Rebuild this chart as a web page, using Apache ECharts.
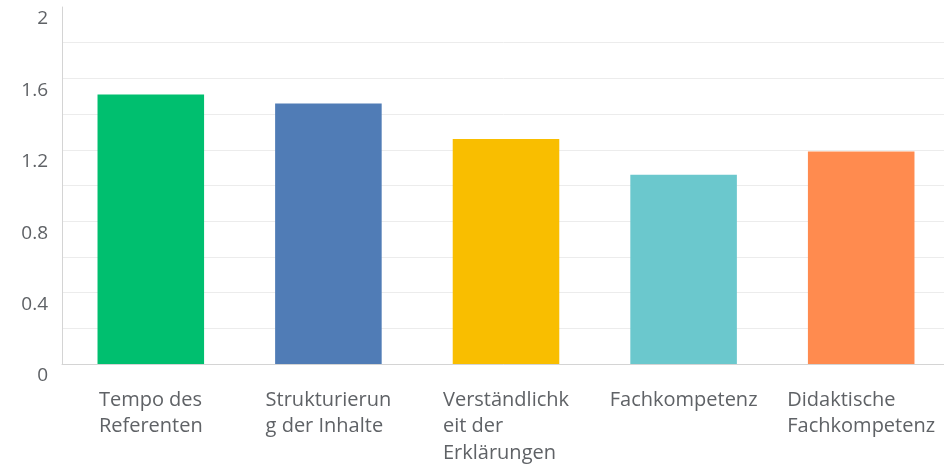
<!DOCTYPE html>
<html>
<head>
<meta charset="utf-8">
<script src="https://cdn.jsdelivr.net/npm/echarts@6/dist/echarts.min.js"></script>
<style>
  html, body { margin: 0; padding: 0; background: #fff; }
  #chart { width: 944px; height: 467px; }
</style>
</head>
<body>
<div id="chart"></div>
<script>
// categories as they wrap in the original
const categories = [
  'Tempo des\nReferenten',
  'Strukturierun\ng der Inhalte',
  'Verständlichk\neit der\nErklärungen',
  'Fachkompetenz',
  'Didaktische\nFachkompetenz'
];
const values = [1.51, 1.46, 1.26, 1.06, 1.19];
const barColors = ['#00bf6f', '#507cb6', '#f9be00', '#6bc8cd', '#ff8b4f'];
const yTicks = [0, 0.4, 0.8, 1.2, 1.6, 2];

const chart = echarts.init(document.getElementById('chart'));

const textColor = '#5f6266';
const font = 'Open Sans';

// grid lines every 0.2, no line drawn at the top value
const gridColors = [];
for (let i = 0; i <= 10; i++) gridColors.push(i === 10 ? 'rgba(0,0,0,0)' : '#ececec');

chart.setOption({
  backgroundColor: '#fff',
  animation: false,
  grid: { left: 62, top: 7, right: -6, bottom: 103, outerBoundsMode: 'none', containLabel: false },
  xAxis: {
    type: 'category',
    data: categories,
    axisLine: { lineStyle: { color: '#d4d4d4', width: 1 } },
    axisTick: { show: false },
    axisLabel: {
      interval: 0,
      margin: 23,
      color: textColor,
      fontFamily: font,
      fontSize: 20,
      lineHeight: 26.5,
      formatter: v => v.split('\n').map(s => '{a|' + s + '}').join('\n'),
      rich: { a: { align: 'left', color: textColor, fontFamily: font, fontSize: 20, lineHeight: 26.5 } }
    }
  },
  yAxis: {
    type: 'value',
    min: 0,
    max: 2,
    interval: 0.2,
    axisLine: { show: true, lineStyle: { color: '#d4d4d4', width: 1 } },
    axisTick: { show: false },
    splitLine: { lineStyle: { color: gridColors, width: 1 } },
    axisLabel: {
      margin: 14,
      color: textColor,
      fontFamily: font,
      fontSize: 19,
      verticalAlign: 'top',
      lineHeight: 24,
      formatter: v => {
        const hit = yTicks.find(t => Math.abs(t - v) < 1e-6);
        return hit === undefined ? '' : String(hit);
      }
    }
  },
  series: [{
    type: 'bar',
    barWidth: '60%',
    data: values.map((v, i) => ({ value: v, itemStyle: { color: barColors[i] } }))
  }]
});
</script>
</body>
</html>
